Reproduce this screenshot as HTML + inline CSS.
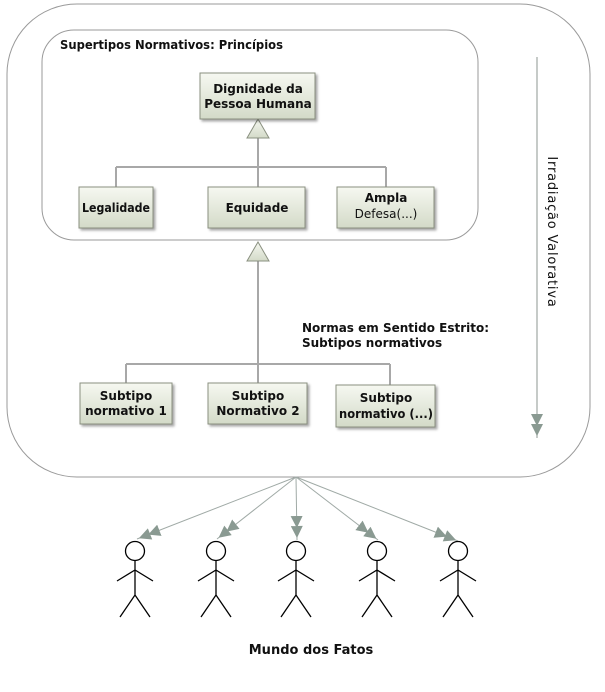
<!DOCTYPE html>
<html><head><meta charset="utf-8"><style>
body{margin:0;background:#fff;}
svg{display:block;font-family:"DejaVu Sans","Liberation Sans",sans-serif;}
</style></head><body>
<svg width="605" height="692" viewBox="0 0 605 692" xmlns="http://www.w3.org/2000/svg">
<defs>
<linearGradient id="g" x1="0" y1="0" x2="0" y2="1">
<stop offset="0" stop-color="#f6f8f1"/><stop offset="1" stop-color="#d3dac8"/>
</linearGradient>
<filter id="sh" x="-10%" y="-10%" width="130%" height="130%"><feDropShadow dx="2" dy="2" stdDeviation="1.2" flood-color="#000" flood-opacity="0.35"/></filter>
<marker id="ah" viewBox="0 0 24 12" refX="24" refY="6" markerWidth="24" markerHeight="12" markerUnits="userSpaceOnUse" orient="auto">
<path d="M0,0 L12,6 L0,12 Z M10,0 L22,6 L10,12 Z" fill="#8a9a92"/>
</marker>
</defs>
<rect x="7" y="4" width="583" height="473" rx="70" fill="none" stroke="#9a9a9a" stroke-width="1"/>
<rect x="42" y="30" width="436" height="210" rx="32" fill="none" stroke="#9a9a9a" stroke-width="1"/>
<text x="60" y="49" font-size="12" font-weight="bold" fill="#111" textLength="223" lengthAdjust="spacingAndGlyphs">Supertipos Normativos: Princípios</text>

<g stroke="#a8a8a8" stroke-width="2" fill="none">
<path d="M258 138 V167 M116 167 H386 M116 167 V187 M258 167 V187 M386 167 V187"/>
<path d="M258 260 V364 M126 364 H390 M126 364 V383 M258 364 V383 M390 364 V385"/>
</g>
<path d="M258 119 L247 138 L269 138 Z" fill="url(#g)" stroke="#8a9080"/>
<path d="M258 242 L247 261 L269 261 Z" fill="url(#g)" stroke="#8a9080"/>

<g fill="url(#g)" stroke="#8a9080" filter="url(#sh)">
<rect x="200" y="73" width="115" height="46"/>
<rect x="79" y="187" width="74" height="41"/>
<rect x="208" y="187" width="97" height="41"/>
<rect x="337" y="187" width="97" height="41"/>
<rect x="80" y="383" width="92" height="41"/>
<rect x="208" y="383" width="99" height="41"/>
<rect x="336" y="385" width="99" height="42"/>
</g>
<g font-size="12" font-weight="bold" fill="#111" text-anchor="middle">
<text x="258" y="93">Dignidade da</text><text x="258" y="108">Pessoa Humana</text>
<text x="116" y="212" textLength="68" lengthAdjust="spacingAndGlyphs">Legalidade</text>
<text x="257" y="212">Equidade</text>
<text x="386" y="202">Ampla</text><text x="386" y="218" font-weight="normal">Defesa(...)</text>
<text x="126" y="400">Subtipo</text><text x="126" y="415">normativo 1</text>
<text x="258" y="400">Subtipo</text><text x="258" y="415">Normativo 2</text>
<text x="386" y="402">Subtipo</text><text x="386" y="418" textLength="94" lengthAdjust="spacingAndGlyphs">normativo (...)</text>
</g>
<text x="302" y="332" font-size="12" font-weight="bold" fill="#111">Normas em Sentido Estrito:</text>
<text x="302" y="347" font-size="12" font-weight="bold" fill="#111">Subtipos normativos</text>

<line x1="537" y1="57" x2="537" y2="438" stroke="#a0a8a4" stroke-width="1.2" marker-end="url(#ah)"/>
<text x="0" y="0" font-size="13" fill="#111" text-anchor="middle" transform="translate(548,232) rotate(90)" letter-spacing="0.8">Irradiação Valorativa</text>

<g stroke="#a0aaa6" stroke-width="1" marker-end="url(#ah)">
<line x1="296" y1="477" x2="137" y2="539"/>
<line x1="296" y1="477" x2="217" y2="539"/>
<line x1="296" y1="477" x2="297" y2="540"/>
<line x1="296" y1="477" x2="378" y2="540"/>
<line x1="296" y1="477" x2="458" y2="541"/>
</g>
<g stroke="#000" stroke-width="1.3" fill="none">
<g transform="translate(135,0)"><circle cx="0" cy="551" r="9.5"/><path d="M0 561 V595 M-18 581 L0 570 L18 581 M-15 617 L0 595 L15 617"/></g>
<g transform="translate(216,0)"><circle cx="0" cy="551" r="9.5"/><path d="M0 561 V595 M-18 581 L0 570 L18 581 M-15 617 L0 595 L15 617"/></g>
<g transform="translate(296,0)"><circle cx="0" cy="551" r="9.5"/><path d="M0 561 V595 M-18 581 L0 570 L18 581 M-15 617 L0 595 L15 617"/></g>
<g transform="translate(377,0)"><circle cx="0" cy="551" r="9.5"/><path d="M0 561 V595 M-18 581 L0 570 L18 581 M-15 617 L0 595 L15 617"/></g>
<g transform="translate(458,0)"><circle cx="0" cy="551" r="9.5"/><path d="M0 561 V595 M-18 581 L0 570 L18 581 M-15 617 L0 595 L15 617"/></g>
</g>
<text x="311" y="654" font-size="13" font-weight="bold" fill="#111" text-anchor="middle">Mundo dos Fatos</text>
</svg>
</body></html>
